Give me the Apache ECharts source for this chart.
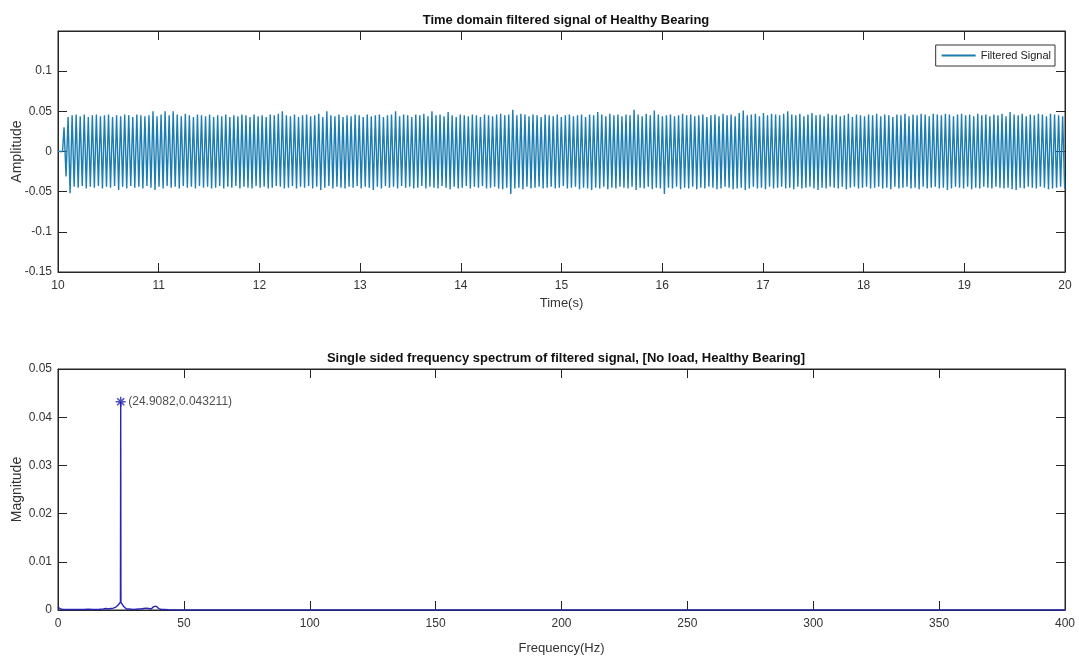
<!DOCTYPE html>
<html>
<head>
<meta charset="utf-8">
<script src="https://cdn.jsdelivr.net/npm/echarts@6/dist/echarts.min.js"></script>
<style>html,body{margin:0;padding:0;background:#fff;}#c{width:1079px;height:662px;}</style>
</head>
<body>
<div id="c"></div>
<script>
// ---- Time-domain signal: successive extrema (alternating top / bottom) ----
const signalStart = [[10.0, 0], [10.045, 0]];
const firstExtremumTime = 10.06;
const halfPeriod = 0.020074; // s, half of 1/24.9082 Hz
const topPeaks = [
0.030,0.043,0.045,0.046,0.044,0.046,0.043,0.045,0.046,0.044,
0.045,0.046,0.043,0.045,0.044,0.046,0.045,0.043,0.046,0.045,
0.044,0.045,0.050,0.044,0.046,0.050,0.045,0.050,0.046,0.044,
0.047,0.045,0.043,0.046,0.045,0.044,0.046,0.043,0.045,0.044,
0.046,0.043,0.045,0.044,0.046,0.045,0.043,0.046,0.044,0.045,
0.043,0.046,0.045,0.047,0.050,0.045,0.044,0.046,0.043,0.045,
0.046,0.044,0.045,0.047,0.043,0.050,0.045,0.044,0.046,0.043,
0.045,0.044,0.046,0.045,0.043,0.046,0.044,0.045,0.046,0.043,
0.045,0.046,0.050,0.044,0.046,0.045,0.043,0.046,0.045,0.047,
0.044,0.050,0.045,0.046,0.044,0.049,0.045,0.043,0.046,0.045,
0.044,0.046,0.045,0.043,0.046,0.045,0.044,0.046,0.047,0.045,
0.046,0.052,0.045,0.047,0.046,0.044,0.046,0.045,0.043,0.046,
0.045,0.044,0.046,0.043,0.045,0.046,0.044,0.045,0.046,0.043,
0.046,0.045,0.049,0.046,0.044,0.047,0.045,0.046,0.044,0.046,
0.045,0.052,0.046,0.044,0.047,0.045,0.051,0.046,0.044,0.045,
0.046,0.044,0.045,0.047,0.045,0.046,0.044,0.045,0.046,0.043,
0.045,0.046,0.044,0.047,0.045,0.046,0.044,0.048,0.051,0.045,
0.046,0.047,0.044,0.048,0.045,0.047,0.046,0.045,0.047,0.050,
0.046,0.045,0.047,0.044,0.046,0.048,0.045,0.046,0.044,0.047,
0.045,0.046,0.044,0.045,0.047,0.043,0.046,0.045,0.044,0.046,
0.045,0.047,0.044,0.046,0.045,0.043,0.046,0.045,0.047,0.044,
0.046,0.045,0.047,0.046,0.044,0.047,0.046,0.045,0.047,0.046,
0.044,0.046,0.047,0.045,0.046,0.044,0.047,0.045,0.046,0.044,
0.046,0.045,0.047,0.044,0.049,0.046,0.045,0.047,0.044,0.046,
0.045,0.047,0.046,0.044,0.047,0.046,0.045,0.044
];
const bottomPeaks = [
-0.031,-0.052,-0.044,-0.045,-0.043,-0.046,-0.044,-0.045,-0.043,-0.046,
-0.044,-0.045,-0.043,-0.048,-0.044,-0.046,-0.043,-0.045,-0.044,-0.046,
-0.043,-0.045,-0.048,-0.044,-0.046,-0.043,-0.045,-0.044,-0.046,-0.043,
-0.045,-0.044,-0.046,-0.043,-0.045,-0.044,-0.046,-0.045,-0.043,-0.046,
-0.044,-0.045,-0.043,-0.046,-0.044,-0.045,-0.046,-0.043,-0.045,-0.044,
-0.046,-0.045,-0.043,-0.044,-0.046,-0.045,-0.043,-0.046,-0.044,-0.045,
-0.043,-0.046,-0.044,-0.048,-0.045,-0.043,-0.046,-0.044,-0.045,-0.046,
-0.044,-0.045,-0.043,-0.046,-0.044,-0.045,-0.048,-0.044,-0.046,-0.043,
-0.045,-0.044,-0.046,-0.043,-0.045,-0.044,-0.046,-0.045,-0.043,-0.046,
-0.044,-0.045,-0.046,-0.043,-0.045,-0.047,-0.044,-0.046,-0.045,-0.043,
-0.046,-0.044,-0.045,-0.043,-0.046,-0.045,-0.044,-0.046,-0.047,-0.045,
-0.053,-0.046,-0.045,-0.047,-0.044,-0.046,-0.045,-0.044,-0.046,-0.045,
-0.044,-0.046,-0.045,-0.043,-0.046,-0.045,-0.044,-0.047,-0.045,-0.046,
-0.048,-0.045,-0.046,-0.044,-0.047,-0.045,-0.046,-0.044,-0.045,-0.046,
-0.044,-0.048,-0.045,-0.046,-0.044,-0.047,-0.045,-0.046,-0.053,-0.045,
-0.046,-0.044,-0.047,-0.045,-0.046,-0.044,-0.047,-0.045,-0.046,-0.044,
-0.045,-0.047,-0.046,-0.044,-0.045,-0.047,-0.046,-0.045,-0.048,-0.046,
-0.044,-0.046,-0.045,-0.047,-0.044,-0.046,-0.045,-0.044,-0.046,-0.045,
-0.047,-0.044,-0.046,-0.045,-0.044,-0.046,-0.048,-0.045,-0.046,-0.044,
-0.045,-0.046,-0.044,-0.047,-0.045,-0.044,-0.046,-0.045,-0.044,-0.046,
-0.045,-0.044,-0.046,-0.045,-0.047,-0.044,-0.046,-0.045,-0.044,-0.046,
-0.045,-0.047,-0.044,-0.046,-0.045,-0.044,-0.046,-0.045,-0.048,-0.046,
-0.044,-0.045,-0.046,-0.044,-0.047,-0.045,-0.046,-0.044,-0.045,-0.046,
-0.044,-0.045,-0.046,-0.045,-0.047,-0.048,-0.045,-0.046,-0.044,-0.045,
-0.046,-0.044,-0.045,-0.047,-0.046,-0.045,-0.044,-0.046
];

// ---- Single-sided spectrum ----
const specFreq = [0,0.5,1,2,4,6,8,10,12,14,16,18,19,20,21,22,23,23.8,24.4,24.8,24.9082,25.0,25.4,26.0,26.6,27.2,28,30,32,33,34,34.5,35,35.5,36,37,37.5,38,38.5,39,39.5,40,40.5,41,42,44,50,100,200,300,400];
const specMag = [0.0006,0.0004,0.0002,0.0001,0.0001,0.0001,0.0001,0.0001,0.00015,0.0001,0.0001,0.0002,0.0003,0.0002,0.0003,0.0004,0.0006,0.0010,0.0014,0.0016,0.043211,0.0016,0.0013,0.0008,0.0004,0.0002,0.0002,0.0001,0.0002,0.0002,0.0003,0.0005,0.0004,0.0006,0.0003,0.0002,0.0005,0.0007,0.0004,0.0008,0.0005,0.0003,0.0002,0.0001,0.0001,0.00005,0,0,0,0,0];
const peakFreq = 24.9082;
const peakMag = 0.043211;

// ---- Titles / labels ----
const topTitle = 'Time domain filtered signal of Healthy Bearing';
const bottomTitle = 'Single sided frequency spectrum of filtered signal, [No load, Healthy Bearing]';
const legendName = 'Filtered Signal';

// build time series points
const signalData = signalStart.slice();
for (let k = 0; k < topPeaks.length; k++) {
  signalData.push([firstExtremumTime + 2 * k * halfPeriod, topPeaks[k]]);
  if (k < bottomPeaks.length) signalData.push([firstExtremumTime + (2 * k + 1) * halfPeriod, bottomPeaks[k]]);
}
const specData = specFreq.map((f, i) => [f, specMag[i]]);

const FONT = '"Liberation Sans", Arial, Helvetica, sans-serif';
const AX = '#262626';
const labelStyle = { color: '#333', fontFamily: FONT, fontSize: 12 };

function xAx(grid, min, max, interval, pos, showLabels, name, nameGap) {
  return {
    type: 'value', gridIndex: grid, min, max, interval, position: pos,
    axisLine: { show: true, onZero: false, lineStyle: { color: AX, width: 1 } },
    axisTick: { show: true, inside: true, length: 9, lineStyle: { color: AX } },
    axisLabel: showLabels ? Object.assign({ margin: 8 }, labelStyle) : { show: false },
    splitLine: { show: false },
    name: name || '', nameLocation: 'middle', nameGap: nameGap || 0, nameMoveOverlap: false,
    nameTextStyle: { color: '#333', fontFamily: FONT, fontSize: 13 }
  };
}
function yAx(grid, min, max, interval, pos, showLabels, name, nameGap, hideMax) {
  return {
    type: 'value', gridIndex: grid, min, max, interval, position: pos,
    axisLine: { show: true, onZero: false, lineStyle: { color: AX, width: 1 } },
    axisTick: { show: true, inside: true, length: 9, lineStyle: { color: AX } },
    axisLabel: showLabels ? Object.assign({ margin: 6, showMaxLabel: !hideMax }, labelStyle) : { show: false },
    splitLine: { show: false },
    name: name || '', nameLocation: 'middle', nameGap: nameGap || 0, nameMoveOverlap: false,
    nameTextStyle: { color: '#333', fontFamily: FONT, fontSize: 14 }
  };
}

const chart = echarts.init(document.getElementById('c'), null, { renderer: 'canvas' });
chart.setOption({
  animation: false,
  backgroundColor: '#fff',
  title: [
    { text: topTitle, left: 561, top: 9, textAlign: 'center', textStyle: { fontFamily: FONT, fontSize: 13, fontWeight: 'bold', color: '#111' } },
    { text: bottomTitle, left: 561, top: 347, textAlign: 'center', textStyle: { fontFamily: FONT, fontSize: 13, fontWeight: 'bold', color: '#111' } }
  ],
  legend: {
    data: [legendName], right: 24, top: 45, orient: 'vertical',
    backgroundColor: '#fff', borderColor: '#333', borderWidth: 1, borderRadius: 0,
    padding: [5, 4, 5, 6], itemWidth: 34, itemHeight: 2, itemGap: 0,
    icon: 'rect',
    textStyle: { fontFamily: FONT, fontSize: 11, color: '#222' }
  },
  grid: [
    { left: 58, right: 14, top: 31, height: 241, show: true, borderColor: AX, borderWidth: 1, backgroundColor: '#fff', containLabel: false, outerBoundsMode: 'none' },
    { left: 58, right: 14, top: 369, height: 241, show: true, borderColor: AX, borderWidth: 1, backgroundColor: '#fff', containLabel: false, outerBoundsMode: 'none' }
  ],
  xAxis: [
    xAx(0, 10, 20, 1, 'bottom', true, 'Time(s)', 25),
    xAx(0, 10, 20, 1, 'top', false),
    xAx(1, 0, 400, 50, 'bottom', true, 'Frequency(Hz)', 32),
    xAx(1, 0, 400, 50, 'top', false)
  ],
  yAxis: [
    yAx(0, -0.15, 0.15, 0.05, 'left', true, 'Amplitude', 34, true),
    yAx(0, -0.15, 0.15, 0.05, 'right', false),
    yAx(1, 0, 0.05, 0.01, 'left', true, 'Magnitude', 34, false),
    yAx(1, 0, 0.05, 0.01, 'right', false)
  ],
  series: [
    {
      name: legendName, type: 'line', xAxisIndex: 0, yAxisIndex: 0,
      data: signalData, showSymbol: false, symbol: 'none', sampling: null,
      lineStyle: { color: '#1c7db2', width: 1.4 }, itemStyle: { color: '#1c7db2' }
    },
    {
      name: 'Spectrum', type: 'line', xAxisIndex: 2, yAxisIndex: 2,
      data: specData, showSymbol: false, symbol: 'none',
      lineStyle: { color: '#2626b4', width: 1.4 }, itemStyle: { color: '#2626b4' }, z: 3
    },
    {
      name: 'Peak', type: 'scatter', xAxisIndex: 2, yAxisIndex: 2,
      data: [[peakFreq, peakMag]],
      symbol: 'path://M5,0L5,10M0,5L10,5M1.5,1.5L8.5,8.5M1.5,8.5L8.5,1.5',
      symbolSize: 10,
      itemStyle: { color: 'none', borderColor: '#1e1ea8', borderWidth: 1.5 },
      label: {
        show: true, position: 'right', distance: 0,
        formatter: () => '(' + peakFreq + ',' + peakMag + ')',
        fontFamily: FONT, fontSize: 12, color: '#222'
      },
      z: 5
    }
  ]
});
</script>
</body>
</html>
